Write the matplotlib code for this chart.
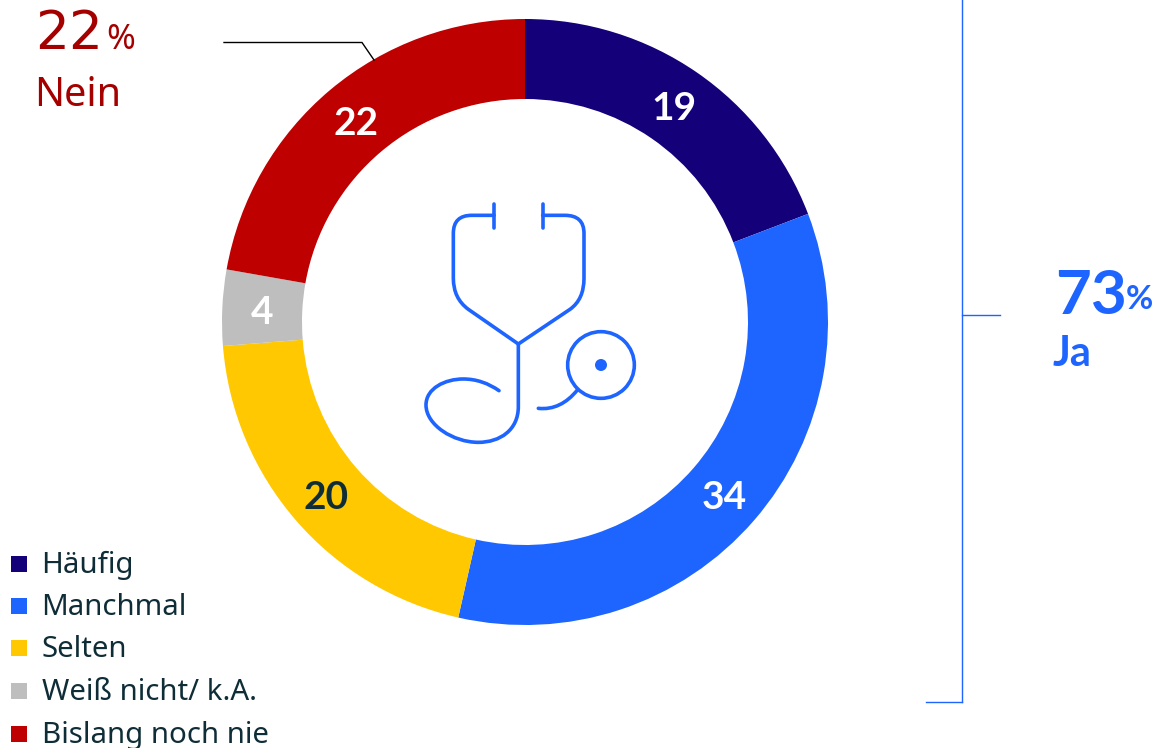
import math
import matplotlib
matplotlib.use("Agg")
import matplotlib.pyplot as plt
from matplotlib.path import Path
from matplotlib.patches import PathPatch, Circle, Rectangle

categories = ["Häufig", "Manchmal", "Selten", "Weiß nicht/ k.A.", "Bislang noch nie"]
values = [19, 34, 20, 4, 22]
colors = ["#140078", "#1E64FF", "#FFC800", "#BEBEBE", "#BE0000"]
label_colors = ["white", "white", "#0F2D37", "white", "white"]

W, H = 1159, 748
plt.rcParams["font.family"] = ["Noto Sans", "DejaVu Sans"]
BOLD = ["Lato", "DejaVu Sans"]
fig = plt.figure(figsize=(W / 100, H / 100), dpi=100)
ax = fig.add_axes([0, 0, 1, 1])

def Y(py):
    return H - py

CX, CY, R, RW = 525, 322, 303, 80
wedges, _ = ax.pie(values, colors=colors, startangle=90, counterclock=False,
                   radius=R, center=(CX, Y(CY)), frame=True,
                   wedgeprops=dict(width=RW, linewidth=0))
ax.set_xlim(0, W)
ax.set_ylim(0, H)
ax.set_aspect("auto")
ax.axis("off")

# value labels at the middle of each ring segment
for w, v, c in zip(wedges, values, label_colors):
    a = math.radians((w.theta1 + w.theta2) / 2)
    ax.text(CX + (R - RW / 2) * math.cos(a), Y(CY) + (R - RW / 2) * math.sin(a),
            str(v), color=c, fontsize=28, fontweight="bold", family=BOLD,
            ha="center", va="center_baseline")

# legend
BASE = [573, 615, 657, 700, 743]
for name, col, b in zip(categories, colors, BASE):
    ax.add_patch(Rectangle((11, Y(b - 1.5)), 16, 16, facecolor=col, edgecolor="none"))
    ax.text(41.5, Y(b), name, color="#0F2D37", fontsize=21.2, ha="left", va="baseline")

# Nein callout
RED = "#A50000"
ax.text(35, Y(49), "22", color=RED, fontsize=38.5, family=["DejaVu Sans"], ha="left", va="baseline")
ax.text(106, Y(49), "%", color=RED, fontsize=25, ha="left", va="baseline")
ax.text(34, Y(106), "Nein", color=RED, fontsize=28.5, ha="left", va="baseline")
ax.plot([224, 362, 374], [Y(42.5), Y(42.5), Y(60)], color="black", lw=1.0, solid_joinstyle="miter")

# Ja callout
BLUE = "#1E64FF"
ax.text(1055, Y(314), "73", color=BLUE, fontsize=44.5, fontweight="bold", family=BOLD, ha="left", va="baseline")
ax.text(1126, Y(309), "%", color=BLUE, fontsize=24, fontweight="bold", family=BOLD, ha="left", va="baseline")
ax.text(1053, Y(366), "Ja", color=BLUE, fontsize=30, fontweight="bold", family=BOLD, ha="left", va="baseline")
ax.plot([962, 962], [Y(0), Y(702)], color=BLUE, lw=1.0)
ax.plot([926, 962], [Y(702), Y(702)], color=BLUE, lw=1.0)
ax.plot([962, 1000], [Y(314.5), Y(314.5)], color=BLUE, lw=1.0)

# stethoscope icon (coordinates measured on the reference at 3x zoom)
def Z(zx, zy):
    return (410 + zx / 3, Y(190 + zy / 3))

M, L, C3, C4 = Path.MOVETO, Path.LINETO, Path.CURVE3, Path.CURVE4
def icon(points):
    verts = [Z(*p[1:]) for p in points]
    codes = [p[0] for p in points]
    ax.add_patch(PathPatch(Path(verts, codes), facecolor="none", edgecolor=BLUE,
                           lw=2.6, capstyle="round", joinstyle="round"))

icon([(M, 252, 42), (L, 252, 113)])
icon([(M, 398, 42), (L, 398, 113)])
icon([(M, 252, 76), (L, 185, 76), (C3, 130, 76), (C3, 130, 130), (L, 130, 265),
      (C3, 130, 325), (C3, 175, 358), (L, 325, 462), (L, 480, 358),
      (C3, 522, 328), (C3, 522, 265), (L, 522, 130), (C3, 522, 76), (C3, 465, 76), (L, 398, 76)])
icon([(M, 325, 462), (L, 325, 650),
      (C4, 325, 720), (C4, 270, 757), (C4, 205, 757),
      (C4, 130, 757), (C4, 48, 705), (C4, 48, 645),
      (C4, 48, 595), (C4, 105, 567), (C4, 160, 567),
      (C4, 200, 567), (C4, 235, 580), (C4, 267, 602)])
icon([(M, 385, 655), (C4, 430, 660), (C4, 470, 640), (C4, 502, 600)])
cx, cy = Z(573, 525)
ax.add_patch(Circle((cx, cy), 100 / 3, facecolor="none", edgecolor=BLUE, lw=2.6))
ax.add_patch(Circle((cx, cy), 18 / 3, facecolor=BLUE, edgecolor="none"))

fig.savefig("out.png", dpi=100, facecolor="white")
